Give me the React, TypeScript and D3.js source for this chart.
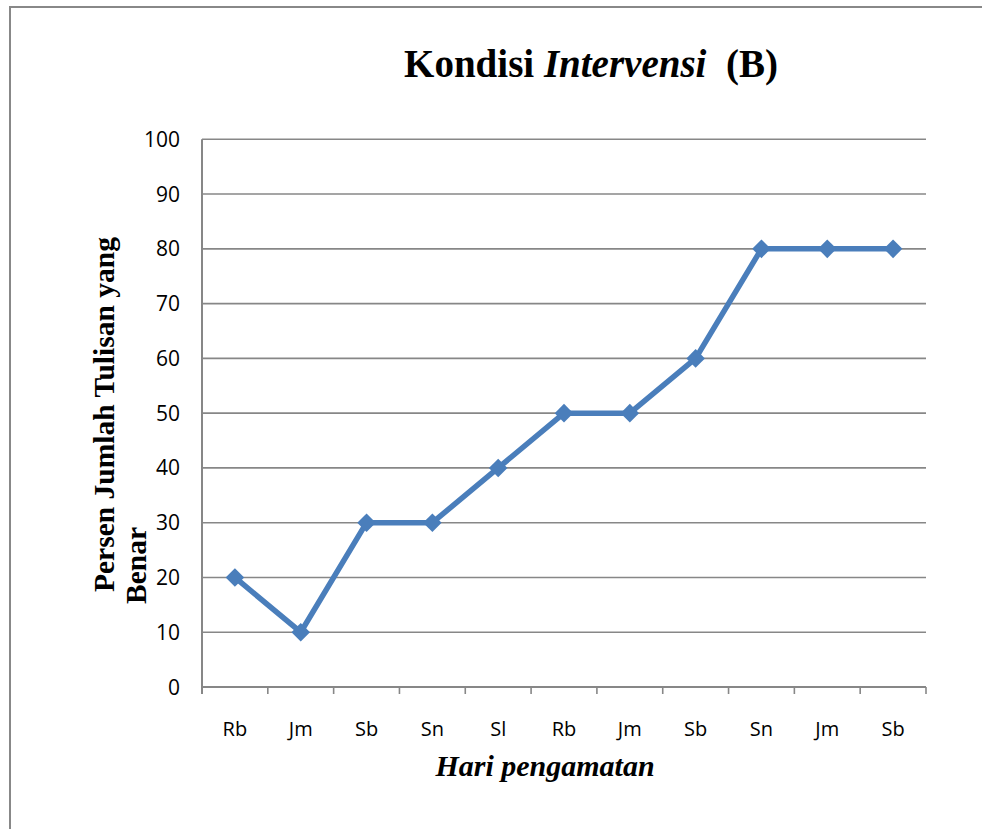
import React from "react";
import * as d3 from "d3";

const categories = ["Rb", "Jm", "Sb", "Sn", "Sl", "Rb", "Jm", "Sb", "Sn", "Jm", "Sb"];
const values = [20, 10, 30, 30, 40, 50, 50, 60, 80, 80, 80];
const yTicks = [0, 10, 20, 30, 40, 50, 60, 70, 80, 90, 100];
const titleMain = "Kondisi ";
const titleItalic = "Intervensi";
const titleEnd = "(B)";
const yTitleLines = ["Persen Jumlah Tulisan yang", "Benar"];
const xTitle = "Hari pengamatan";

const W = 982;
const H = 829;
const left = 202;
const right = 926;
const top = 139.3;
const bottom = 687;

export default function App() {
  const idx = categories.map((_, i) => String(i));
  const x = d3.scaleBand<string>().domain(idx).range([left, right]);
  const y = d3.scaleLinear().domain([0, 100]).range([bottom, top]);
  const line = d3
    .line<number>()
    .x((_, i) => (x(String(i)) as number) + x.bandwidth() / 2)
    .y((d) => y(d));
  const diamond = d3.symbol().type(d3.symbolDiamond2).size(220)();
  const grid = "#878787";
  const blue = "#4A7EBB";
  const boundaries = d3.range(categories.length + 1).map((i) => left + i * x.bandwidth());

  return (
    <svg
      width={W}
      height={H}
      style={{ position: "absolute", left: 0, top: 0, background: "#fff" }}
    >
      <rect x={0} y={0} width={W} height={H} fill="#fff" />
      <rect x={10} y={7} width={W + 20} height={H + 20} fill="none" stroke="#888" strokeWidth={2} />
      <text
        x={591}
        y={77}
        textAnchor="middle"
        fontFamily="'Liberation Serif', 'Times New Roman', serif"
        fontWeight="bold"
        fontSize={39}
        fill="#000"
      >
        <tspan>{titleMain}</tspan>
        <tspan fontStyle="italic">{titleItalic}</tspan>
        <tspan>{"\u00a0 "}</tspan>
        <tspan>{titleEnd}</tspan>
      </text>
      {yTicks.map((t) => (
        <line
          key={"g" + t}
          x1={left}
          x2={right}
          y1={y(t)}
          y2={y(t)}
          stroke={grid}
          strokeWidth={t === 0 ? 2 : 1.6}
        />
      ))}
      <line x1={left} x2={left} y1={top} y2={bottom + 7} stroke={grid} strokeWidth={2} />
      {boundaries.slice(1).map((b, i) => (
        <line key={"t" + i} x1={b} x2={b} y1={bottom} y2={bottom + 7} stroke={grid} strokeWidth={1.6} />
      ))}
      {yTicks.map((t) => (
        <text
          key={"yl" + t}
          x={180}
          y={y(t) + 7.5}
          textAnchor="end"
          fontFamily="'Open Sans', sans-serif"
          fontSize={21}
          fill="#000"
        >
          {t}
        </text>
      ))}
      {categories.map((c, i) => (
        <text
          key={"xl" + i}
          x={(x(String(i)) as number) + x.bandwidth() / 2}
          y={736}
          textAnchor="middle"
          fontFamily="'Open Sans', sans-serif"
          fontSize={20}
          fill="#000"
        >
          {c}
        </text>
      ))}
      <path d={line(values) || ""} fill="none" stroke={blue} strokeWidth={5.5} strokeLinejoin="round" />
      {values.map((v, i) => (
        <path
          key={"m" + i}
          d={diamond || ""}
          transform={`translate(${(x(String(i)) as number) + x.bandwidth() / 2},${y(v)})`}
          fill={blue}
        />
      ))}
      <text
        x={545}
        y={776}
        textAnchor="middle"
        fontFamily="'Liberation Serif', 'Times New Roman', serif"
        fontWeight="bold"
        fontStyle="italic"
        fontSize={30}
        fill="#000"
      >
        {xTitle}
      </text>
      <text
        transform="translate(114,592) rotate(-90)"
        textAnchor="start"
        fontFamily="'Liberation Serif', 'Times New Roman', serif"
        fontWeight="bold"
        fontSize={29.5}
        fill="#000"
      >
        {yTitleLines[0]}
      </text>
      <text
        transform="translate(146,604) rotate(-90)"
        textAnchor="start"
        fontFamily="'Liberation Serif', 'Times New Roman', serif"
        fontWeight="bold"
        fontSize={29.5}
        fill="#000"
      >
        {yTitleLines[1]}
      </text>
    </svg>
  );
}
